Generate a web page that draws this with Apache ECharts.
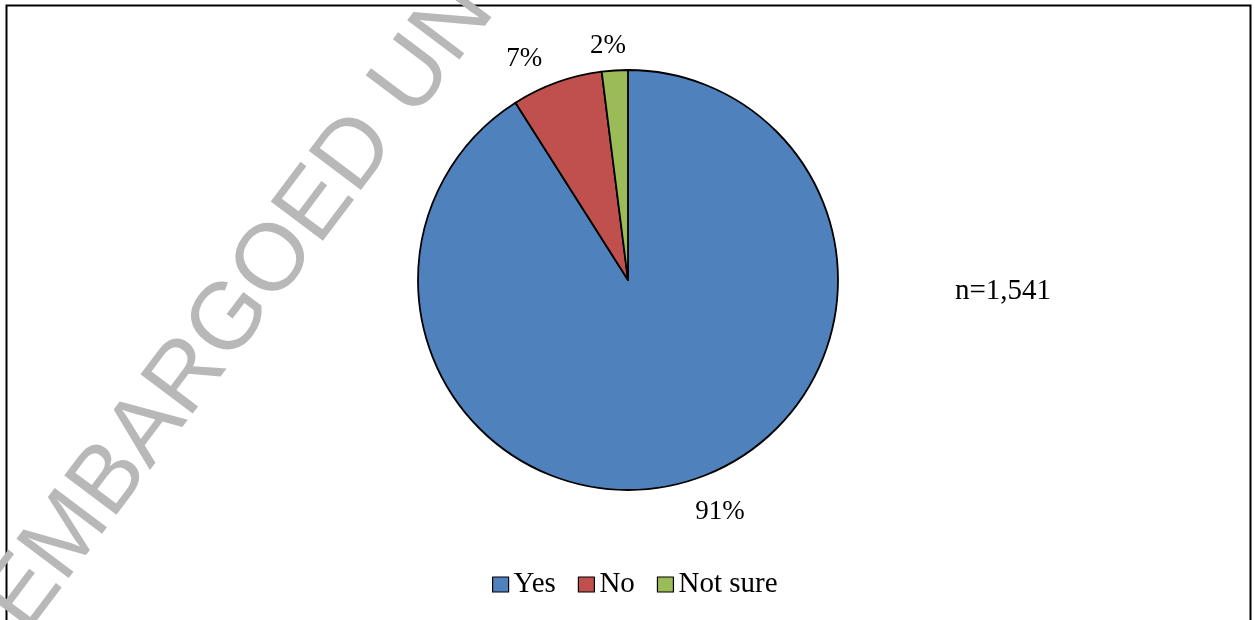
<!DOCTYPE html>
<html>
<head>
<meta charset="utf-8">
<script src="https://cdn.jsdelivr.net/npm/echarts@6/dist/echarts.min.js"></script>
<style>
html,body{margin:0;padding:0;background:#fff;}
#chart{width:1255px;height:620px;}
</style>
</head>
<body>
<div id="chart"></div>
<script>
const categories = ['Yes', 'No', 'Not sure'];
const percentValues = [91, 7, 2];
const sliceColors = ['#4F81BD', '#C0504D', '#9BBB59'];
const sampleNote = 'n=1,541';
const watermarkText = 'EMBARGOED UNTIL';

const chart = echarts.init(document.getElementById('chart'), null, {renderer: 'canvas'});
const serif = '"Liberation Serif", "Times New Roman", serif';

const pieData = categories.map((name, i) => ({
  name: name,
  value: percentValues[i],
  itemStyle: {color: sliceColors[i]}
}));

const angle = 53 * Math.PI / 180;
const labelNudge = [[0, 0], [-4, 6], [13, 6]];

chart.setOption({
  animation: false,
  backgroundColor: '#ffffff',
  legend: {
    data: categories,
    left: 487,
    top: 565,
    icon: 'rect',
    itemWidth: 16,
    itemHeight: 15,
    itemGap: 22,
    textStyle: {fontFamily: serif, fontSize: 29, color: '#000'},
    itemStyle: {borderColor: '#000', borderWidth: 1.2}
  },
  graphic: [
    {
      type: 'rect',
      z: 1,
      shape: {x: 6.5, y: 5.5, width: 1244, height: 700},
      style: {fill: 'none', stroke: '#000', lineWidth: 2}
    },
    {
      type: 'text',
      left: 955,
      top: 277,
      style: {text: sampleNote, font: '29px ' + serif, fill: '#000'}
    },
    {
      type: 'text',
      z: 100,
      x: 5,
      y: 619,
      rotation: angle,
      style: {
        text: watermarkText,
        x: 0, y: 0,
        fontFamily: '"Liberation Sans", Arial, sans-serif',
        fontSize: 95,
        fill: '#b8b8b8',
        verticalAlign: 'middle',
        align: 'left'
      }
    }
  ],
  series: [{
    type: 'pie',
    center: [628, 280],
    radius: 210,
    startAngle: 90,
    clockwise: true,
    avoidLabelOverlap: false,
    data: pieData,
    itemStyle: {borderColor: '#000', borderWidth: 1.8},
    label: {
      show: true,
      position: 'outside',
      formatter: '{c}%',
      fontFamily: serif,
      fontSize: 27,
      color: '#000',
      distanceToLabelLine: 0
    },
    labelLine: {show: false, length: 31, length2: 0},
    labelLayout: function (params) {
      const n = labelNudge[params.dataIndex];
      return {dx: n[0], dy: n[1]};
    },
    emphasis: {disabled: true}
  }]
});
</script>
</body>
</html>
